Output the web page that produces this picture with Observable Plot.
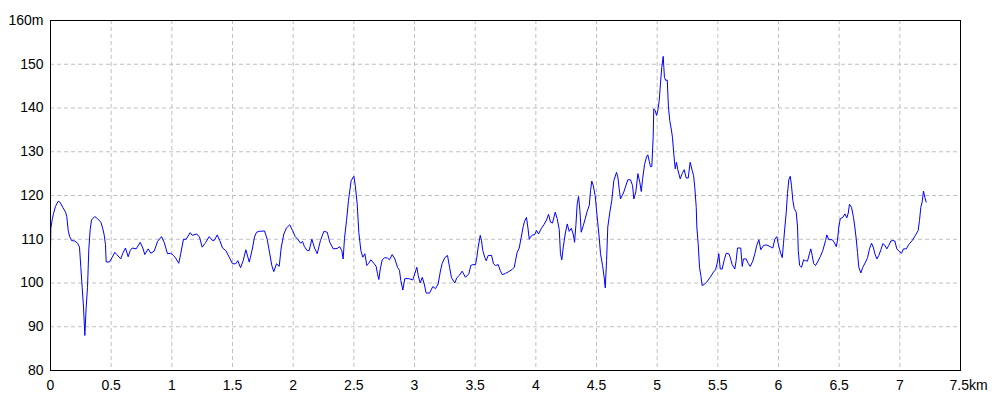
<!DOCTYPE html>
<html>
<head>
<meta charset="utf-8">
<script src="https://cdn.jsdelivr.net/npm/d3@7"></script>
<script src="https://cdn.jsdelivr.net/npm/@observablehq/plot@0.6"></script>
<style>
  html, body { margin: 0; padding: 0; background: #fff; }
  #chart { width: 1000px; height: 400px; }
</style>
</head>
<body>
<div id="chart"></div>
<script>
// Distance along the route (km)
const distanceKm = [
  0, 0.003, 0.014, 0.025, 0.041, 0.063, 0.080, 0.101, 0.124, 0.134, 0.146, 0.157, 0.173, 0.200, 0.223, 0.239,
  0.250, 0.261, 0.272, 0.283, 0.294, 0.305, 0.316, 0.327, 0.338, 0.365, 0.387, 0.415, 0.431, 0.443, 0.453, 0.459,
  0.486, 0.509, 0.530, 0.546, 0.579, 0.596, 0.618, 0.640, 0.657, 0.673, 0.706, 0.739, 0.761, 0.777, 0.805, 0.827,
  0.855, 0.882, 0.915, 0.937, 0.964, 0.992, 1.014, 1.036, 1.057, 1.074, 1.096, 1.118, 1.151, 1.168, 1.206, 1.228,
  1.250, 1.272, 1.280, 1.308, 1.335, 1.352, 1.374, 1.395, 1.418, 1.445, 1.473, 1.500, 1.527, 1.544, 1.566, 1.588,
  1.610, 1.638, 1.648, 1.665, 1.681, 1.698, 1.720, 1.764, 1.786, 1.807, 1.824, 1.840, 1.863, 1.885, 1.901, 1.923,
  1.945, 1.972, 1.995, 2.017, 2.038, 2.061, 2.077, 2.093, 2.116, 2.132, 2.154, 2.176, 2.198, 2.225, 2.253, 2.281,
  2.302, 2.330, 2.363, 2.384, 2.401, 2.412, 2.423, 2.440, 2.456, 2.478, 2.500, 2.512, 2.528, 2.541, 2.558, 2.574,
  2.591, 2.607, 2.623, 2.640, 2.668, 2.684, 2.695, 2.706, 2.718, 2.734, 2.755, 2.778, 2.794, 2.816, 2.838, 2.860,
  2.876, 2.887, 2.904, 2.920, 2.953, 2.986, 3.002, 3.019, 3.031, 3.047, 3.064, 3.080, 3.096, 3.124, 3.151, 3.173,
  3.195, 3.212, 3.228, 3.250, 3.272, 3.289, 3.305, 3.332, 3.349, 3.371, 3.393, 3.420, 3.448, 3.464, 3.481, 3.503,
  3.514, 3.525, 3.542, 3.552, 3.563, 3.580, 3.591, 3.607, 3.635, 3.651, 3.668, 3.690, 3.706, 3.723, 3.750, 3.777,
  3.805, 3.822, 3.832, 3.846, 3.863, 3.880, 3.896, 3.907, 3.923, 3.934, 3.946, 3.956, 3.973, 3.989, 4.006, 4.022,
  4.044, 4.066, 4.088, 4.105, 4.121, 4.137, 4.160, 4.176, 4.193, 4.203, 4.214, 4.226, 4.242, 4.259, 4.275, 4.292,
  4.308, 4.319, 4.330, 4.341, 4.352, 4.363, 4.374, 4.391, 4.407, 4.423, 4.440, 4.451, 4.461, 4.473, 4.489, 4.506,
  4.522, 4.533, 4.550, 4.566, 4.572, 4.583, 4.593, 4.610, 4.626, 4.643, 4.665, 4.676, 4.687, 4.698, 4.725, 4.758,
  4.780, 4.797, 4.808, 4.824, 4.841, 4.857, 4.869, 4.879, 4.896, 4.912, 4.923, 4.935, 4.945, 4.956, 4.967, 4.972,
  4.984, 4.995, 5.005, 5.017, 5.027, 5.038, 5.050, 5.055, 5.060, 5.071, 5.083, 5.093, 5.104, 5.116, 5.126, 5.137,
  5.149, 5.159, 5.170, 5.190, 5.206, 5.223, 5.239, 5.256, 5.272, 5.289, 5.300, 5.310, 5.322, 5.327, 5.338, 5.349,
  5.360, 5.371, 5.388, 5.409, 5.437, 5.464, 5.481, 5.497, 5.508, 5.520, 5.536, 5.553, 5.569, 5.590, 5.602, 5.618,
  5.640, 5.651, 5.662, 5.689, 5.701, 5.711, 5.734, 5.750, 5.767, 5.788, 5.805, 5.821, 5.838, 5.854, 5.877, 5.904,
  5.932, 5.953, 5.970, 5.986, 6.003, 6.019, 6.031, 6.041, 6.052, 6.064, 6.074, 6.085, 6.097, 6.107, 6.118, 6.130,
  6.146, 6.157, 6.163, 6.174, 6.190, 6.207, 6.223, 6.239, 6.256, 6.266, 6.278, 6.289, 6.305, 6.322, 6.344, 6.365,
  6.388, 6.398, 6.415, 6.443, 6.459, 6.476, 6.486, 6.497, 6.509, 6.530, 6.547, 6.563, 6.575, 6.585, 6.602, 6.618,
  6.629, 6.641, 6.651, 6.662, 6.679, 6.695, 6.718, 6.734, 6.750, 6.767, 6.783, 6.794, 6.811, 6.827, 6.844, 6.860,
  6.877, 6.893, 6.909, 6.926, 6.942, 6.959, 6.975, 6.992, 7.014, 7.030, 7.053, 7.074, 7.102, 7.129, 7.151, 7.162,
  7.173, 7.184, 7.195, 7.206, 7.217
];

// Elevation (m)
const elevationM = [
  107.5, 112.5, 114.5, 115.9, 117.5, 118.7, 118.4, 117.3, 116.2, 115.2, 112.0, 110.7, 109.7, 109.6, 109.1, 108.2,
  103.6, 99.0, 94.5, 88.0, 94.5, 99.0, 107.8, 112.2, 114.4, 115.2, 114.7, 113.9, 112.4, 110.9, 108.8, 104.8,
  104.8, 105.9, 107.0, 106.5, 105.5, 106.8, 108.0, 106.0, 107.4, 108.0, 107.8, 109.3, 108.0, 106.5, 107.8, 106.8,
  107.3, 109.5, 110.6, 109.3, 106.7, 106.8, 106.3, 105.5, 104.5, 106.8, 110.0, 110.0, 111.5, 110.9, 111.2, 110.5,
  108.2, 109.0, 109.3, 110.6, 109.7, 109.8, 111.0, 109.7, 108.0, 107.4, 105.9, 104.4, 104.4, 105.1, 103.5, 105.1,
  107.6, 104.8, 105.9, 108.0, 110.5, 111.6, 111.8, 111.9, 110.0, 106.7, 104.0, 102.6, 104.4, 103.8, 108.0, 111.2,
  112.6, 113.3, 112.0, 110.6, 110.0, 109.1, 109.5, 108.3, 107.4, 107.4, 110.0, 108.0, 106.7, 109.7, 111.8, 111.6,
  109.3, 107.8, 107.9, 108.3, 107.4, 105.5, 110.2, 114.3, 118.9, 123.4, 124.4, 122.3, 118.0, 111.6, 107.4, 105.9,
  106.7, 104.0, 104.5, 105.3, 104.4, 103.8, 102.1, 100.8, 103.2, 105.3, 105.8, 105.7, 105.3, 106.5, 105.5, 103.6,
  102.9, 100.6, 98.4, 101.0, 101.0, 100.7, 102.1, 103.6, 101.7, 100.0, 101.3, 99.8, 97.7, 97.7, 99.2, 98.7,
  99.8, 102.5, 104.5, 105.8, 106.3, 103.6, 101.2, 100.0, 101.2, 101.8, 102.7, 101.3, 102.1, 104.0, 104.2, 104.2,
  105.9, 108.2, 110.9, 109.7, 107.4, 105.8, 105.1, 106.3, 106.3, 104.4, 104.0, 104.2, 102.9, 101.9, 102.2, 102.6,
  103.1, 103.6, 105.0, 107.0, 108.0, 110.5, 112.9, 114.1, 115.0, 112.8, 110.0, 110.5, 111.0, 111.0, 112.0, 111.2,
  112.4, 113.3, 114.4, 115.7, 113.9, 113.7, 116.2, 114.7, 112.2, 106.7, 105.3, 108.2, 111.2, 113.5, 111.8, 112.5,
  111.2, 109.3, 113.1, 118.1, 119.8, 116.6, 111.6, 113.1, 114.7, 116.4, 117.7, 121.1, 123.3, 122.3, 120.0, 115.0,
  110.5, 106.7, 104.0, 100.7, 98.9, 105.1, 112.8, 116.2, 118.9, 123.4, 125.3, 124.2, 121.5, 119.2, 120.8, 123.6,
  123.6, 122.3, 119.2, 120.8, 125.0, 123.0, 120.9, 123.6, 127.1, 128.8, 129.3, 127.8, 126.6, 126.6, 133.3, 139.8,
  139.4, 138.3, 139.4, 141.7, 145.5, 149.3, 151.8, 149.3, 147.0, 146.3, 146.4, 140.2, 137.1, 135.2, 133.3, 129.5,
  126.1, 127.6, 125.9, 123.8, 125.0, 125.9, 124.0, 124.0, 127.6, 125.7, 124.6, 121.9, 117.3, 112.8, 109.0, 103.6,
  101.7, 99.4, 99.7, 100.2, 101.3, 102.5, 103.0, 104.8, 106.7, 103.2, 103.2, 105.3, 106.8, 106.7, 105.9, 104.2,
  103.2, 105.1, 108.0, 108.0, 103.8, 105.5, 105.5, 104.5, 103.8, 105.0, 106.7, 108.6, 109.9, 107.6, 108.6, 108.7,
  108.3, 108.0, 110.0, 110.6, 108.3, 106.7, 105.8, 109.0, 112.6, 116.2, 120.4, 123.6, 124.4, 122.3, 118.9, 117.0,
  116.2, 112.8, 107.4, 104.0, 103.6, 105.3, 105.1, 105.0, 106.8, 107.8, 106.3, 104.5, 104.0, 104.8, 106.0, 107.4,
  109.7, 111.0, 109.9, 109.9, 109.3, 108.3, 109.7, 112.8, 114.7, 115.0, 115.8, 114.9, 116.0, 118.0, 117.3, 115.0,
  112.8, 110.0, 107.0, 103.6, 102.3, 103.6, 104.8, 105.8, 107.8, 109.1, 108.0, 106.7, 105.5, 106.3, 107.6, 109.0,
  108.6, 107.8, 108.6, 109.6, 109.7, 109.6, 107.8, 107.3, 106.8, 107.8, 107.8, 108.8, 109.7, 110.9, 112.0, 114.3,
  117.3, 118.5, 121.0, 119.6, 118.5
];

const xTicks = [0, 0.5, 1, 1.5, 2, 2.5, 3, 3.5, 4, 4.5, 5, 5.5, 6, 6.5, 7, 7.5];
const xTickLabels = ["0", "0.5", "1", "1.5", "2", "2.5", "3", "3.5", "4", "4.5", "5", "5.5", "6", "6.5", "7", "7.5km"];
const yTicks = [80, 90, 100, 110, 120, 130, 140, 150, 160];
const yTickLabels = ["80", "90", "100", "110", "120", "130", "140", "150", "160m"];

const profile = distanceKm.map((d, i) => ({km: d, elev: elevationM[i]}));
const lastX = xTicks[xTicks.length - 1];

const font = "'Liberation Sans', Arial, sans-serif";

const chart = Plot.plot({
  width: 1000,
  height: 400,
  marginLeft: 50,
  marginRight: 40,
  marginTop: 20,
  marginBottom: 30,
  style: {fontFamily: font, fontSize: "14px", color: "#000", background: "#fff"},
  x: {domain: [0, 7.5]},
  y: {domain: [80, 160]},
  marks: [
    Plot.gridX(xTicks, {stroke: "#c0c0c0", strokeOpacity: 1, strokeDasharray: "4,3"}),
    Plot.gridY(yTicks, {stroke: "#c0c0c0", strokeOpacity: 1, strokeDasharray: "4,3"}),
    Plot.line(profile, {x: "km", y: "elev", stroke: "#0000ff", strokeWidth: 1, curve: "linear"}),
    Plot.frame({stroke: "#000", strokeWidth: 1}),
    Plot.axisY(yTicks, {
      tickSize: 0, tickPadding: 7, label: null,
      tickFormat: (d) => yTickLabels[yTicks.indexOf(d)],
      fontSize: 14
    }),
    Plot.axisX(xTicks.slice(0, -1), {
      tickSize: 0, tickPadding: 10, label: null,
      tickFormat: (d) => xTickLabels[xTicks.indexOf(d)],
      fontSize: 14
    }),
    Plot.text([lastX], {
      x: (d) => d, text: () => xTickLabels[xTickLabels.length - 1],
      frameAnchor: "bottom", lineAnchor: "top", textAnchor: "start",
      dy: 10, dx: -11, fontSize: 14
    })
  ]
});

document.getElementById("chart").appendChild(chart);
</script>
</body>
</html>
